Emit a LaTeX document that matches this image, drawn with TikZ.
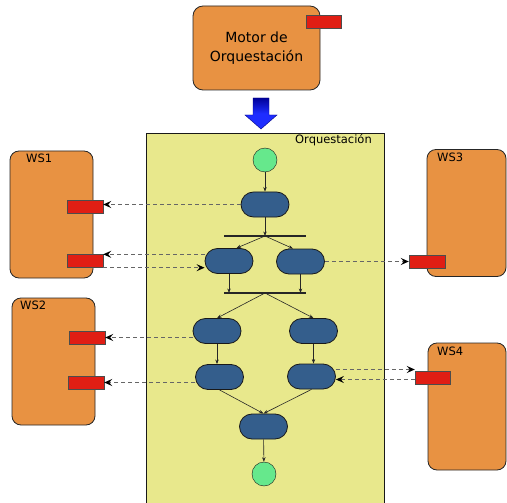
\documentclass[tikz,border=0pt]{standalone}
\usepackage{fontspec}
\setmainfont{DejaVu Sans}
\usetikzlibrary{shapes.misc}
\usetikzlibrary{arrows.meta}
\tikzset{>={Stealth[scale=.8]}}
\definecolor{wsorange}{RGB}{232,146,66}
\definecolor{orqyellow}{RGB}{232,232,140}
\definecolor{actblue}{RGB}{52,94,140}
\definecolor{stgreen}{RGB}{102,232,140}
\definecolor{portred}{RGB}{224,30,20}
\definecolor{arrowblue}{RGB}{30,45,255}
\tikzset{
  wsbox/.style={draw=black!85, thick, fill=wsorange, rounded corners=9pt,
    minimum width=83pt, minimum height=127pt, inner sep=0},
  wstext/.style={font=\fontsize{11.5}{13}\selectfont, anchor=north west, inner sep=0},
  port/.style={draw=black!70, fill=portred, minimum width=36pt,
    minimum height=13pt, inner sep=0},
  act/.style={rounded rectangle, draw=black!90, thick, fill=actblue,
    minimum width=48pt, minimum height=25pt, inner sep=0},
  startend/.style={circle, draw=black!90, fill=stgreen, minimum size=24pt, inner sep=0},
  flow/.style={->, black!85, semithick},
  call/.style={-{Stealth[black, length=8pt, width=7pt, inset=3pt]}, black!60,
    line width=1.2pt, dash pattern=on 4pt off 3pt},
}

\begin{document}
\begin{tikzpicture}[x=1pt, y=-1pt]
      \useasboundingbox (0,0) rectangle (507,503);
      % engine
      \node[draw=black!85, thick, fill=wsorange, rounded corners=10pt,
        minimum width=127pt, minimum height=84pt, align=center,
        font=\fontsize{14}{18.5}\selectfont] (motor) at (256.5,48)
        {Motor de\\Orquestación};
      \node[port, minimum width=35pt] (motorp) at (323.5,21.5) {};
      \draw[draw=blue!50!black, top color=blue!60!black, bottom color=arrowblue,
        middle color=arrowblue]
        (253,98) -- (269,98) -- (269,115) -- (277,115) -- (261,129)
        -- (245,115) -- (253,115) -- cycle;
      % orchestration area
      \node[draw=black!90, fill=orqyellow, minimum width=238pt, minimum height=372pt,
        inner sep=0] (orq) at (265,319) {};
      \node[font=\fontsize{11.5}{13}\selectfont, anchor=north east, inner sep=0]
        (orqlabel) at (372,134.5) {Orquestación};
      % services
      \node[wsbox] (ws1) at (51.5,214.5) {};
      \node[wsbox] (ws2) at (53.5,361.5) {};
      \node[wsbox, minimum width=79pt] (ws3) at (466.5,213) {};
      \node[wsbox, minimum width=78pt] (ws4) at (467,406.5) {};
      \node[wstext] (ws1label) at (26,153.5) {WS1};
      \node[wstext] (ws2label) at (20,300.5) {WS2};
      \node[wstext] (ws3label) at (437,152.5) {WS3};
      \node[wstext] (ws4label) at (437,346.5) {WS4};
      \node[port] (w1p1) at (85,206.5) {};
      \node[port] (w1p2) at (85,261) {};
      \node[port] (w2p1) at (87,337.5) {};
      \node[port] (w2p2) at (86,382.5) {};
      \node[port] (w3p) at (427,261.5) {};
      \node[port, minimum width=35pt] (w4p) at (432.5,377.5) {};
      % activities
      \node[startend] (start) at (265,160) {};
      \node[act] (a1) at (265,204.5) {};
      \node[act] (a2l) at (229,261) {};
      \node[act] (a2r) at (300.5,261.5) {};
      \node[act] (a3l) at (217,331) {};
      \node[act] (a3r) at (313.5,331) {};
      \node[act] (a4l) at (219.5,377) {};
      \node[act] (a4r) at (311.5,376.5) {};
      \node[act] (a5) at (263.5,426.5) {};
      \node[startend] (stop) at (264,474) {};
      % fork and join bars
      \coordinate (fl) at (224,236);
      \coordinate (fr) at (306,236);
      \coordinate (fc) at (265,236);
      \coordinate (jl) at (224,293);
      \coordinate (jr) at (306,293);
      \coordinate (jc) at (265,293);
      \draw[black!85, line width=1.4pt] (fl) -- (fr);
      \draw[black!85, line width=1.4pt] (jl) -- (jr);
      % control flow
      \draw[flow] (start) -- (a1);
      \draw[flow] (a1) -- (fc);
      \draw[flow] (fc) -- (a2l.60);
      \draw[flow] (fc) -- (a2r.120);
      \draw[flow] (a2l) -- (a2l |- jl);
      \draw[flow] (a2r) -- (a2r |- jr);
      \draw[flow] (jc) -- (a3l.north);
      \draw[flow] (jc) -- (a3r.north);
      \draw[flow] (a3l) -- (a3l |- a4l.north);
      \draw[flow] (a3r) -- (a3r |- a4r.north);
      \draw[flow] (a4l.south) -- (a5.north);
      \draw[flow] (a4r.south) -- (a5.north);
      \draw[flow] (a5) -- (stop);
      % service calls
      \draw[call] (a1.west) -- (a1.west -| w1p1.east);
      \draw[call] (w1p2.north east -| a2l.west) -- (w1p2.north east);
      \draw[call] (w1p2.south east) -- (w1p2.south east -| a2l.west);
      \draw[call] (a2r.east) -- (a2r.east -| w3p.west);
      \draw[call] (w2p1.east -| a3l.west) -- (w2p1.east);
      \draw[call] (w2p2.east -| a4l.west) -- (w2p2.east);
      \draw[call] ([yshift=7pt]a4r.east) -- ([yshift=7pt]a4r.east -| w4p.west);
      \draw[call] ([yshift=-2pt]w4p.west) -- ([yshift=-2pt]w4p.west -| a4r.east);
    \end{tikzpicture}
\end{document}
